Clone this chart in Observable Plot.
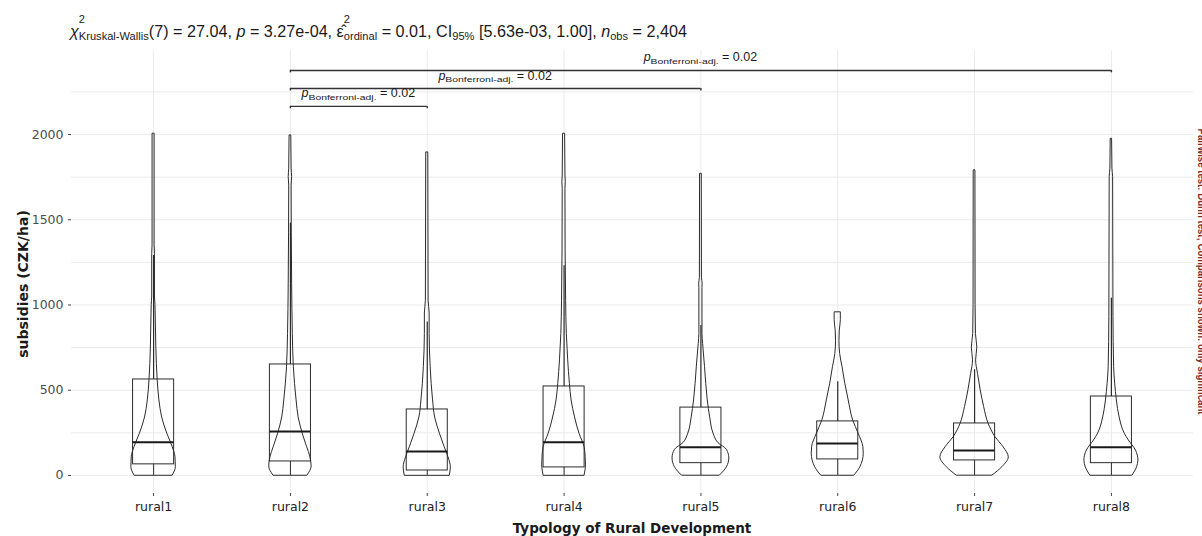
<!DOCTYPE html>
<html>
<head>
<meta charset="utf-8">
<script src="https://cdn.jsdelivr.net/npm/d3@7"></script>
<script src="https://cdn.jsdelivr.net/npm/@observablehq/plot@0.6"></script>
<style>
  html, body { margin: 0; padding: 0; background: #fff; overflow: hidden; }
</style>
</head>
<body>
<div id="chart"></div>
<script>
// ---------------- data ----------------
const categories = ["rural1", "rural2", "rural3", "rural4", "rural5", "rural6", "rural7", "rural8"];

const boxQ1     = [65, 82, 29, 47, 72, 94, 88, 72];
const boxMedian = [194, 258, 141, 194, 165, 187, 147, 165];
const boxQ3     = [563, 651, 387, 522, 398, 317, 305, 463];
const whiskerLo = [0, 0, 0, 0, 0, 0, 0, 0];
const whiskerHi = [1290, 1480, 900, 1230, 880, 550, 620, 1040];

// violin density profiles: [value, relative density]
const densityRural1 = [[0,.56],[48,.65],[106,.64],[165,.56],[245,.40],[340,.25],[440,.17],[557,.12],[750,.08],[950,.06],[1000,.055],[1050,.04],[1300,.04],[1350,.03],[2005,.03]];
const densityRural2 = [[0,.50],[53,.62],[110,.58],[165,.49],[245,.36],[340,.24],[440,.18],[635,.10],[830,.07],[1125,.05],[1420,.04],[1700,.035],[1750,.05],[1800,.035],[1995,.025]];
const densityRural3 = [[0,.66],[47,.69],[106,.62],[165,.51],[245,.37],[340,.23],[440,.17],[635,.10],[830,.07],[950,.07],[1025,.04],[1895,.03]];
const densityRural4 = [[0,.60],[59,.64],[110,.63],[165,.60],[245,.45],[340,.32],[440,.22],[538,.17],[675,.12],[830,.08],[1025,.06],[1320,.045],[1680,.04],[1720,.05],[1760,.04],[2005,.03]];
const densityRural5 = [[0,.56],[48,.76],[100,.83],[150,.76],[190,.51],[245,.37],[340,.27],[440,.20],[635,.12],[770,.065],[830,.045],[1100,.045],[1125,.05],[1160,.03],[1770,.025]];
const densityRural6 = [[0,.49],[48,.66],[127,.76],[165,.75],[245,.61],[323,.45],[440,.32],[538,.22],[635,.14],[713,.07],[790,.05],[850,.06],[910,.09],[957,.09]];
const densityRural7 = [[0,.53],[48,.81],[106,1.0],[165,.85],[225,.61],[303,.41],[401,.28],[499,.18],[596,.10],[675,.045],[750,.08],[830,.04],[1000,.03],[1790,.025]];
const densityRural8 = [[0,.62],[48,.75],[87,.79],[145,.72],[205,.51],[245,.39],[340,.24],[440,.16],[538,.11],[635,.08],[930,.06],[1750,.05],[1800,.03],[1975,.02]];
const violinProfiles = [densityRural1, densityRural2, densityRural3, densityRural4, densityRural5, densityRural6, densityRural7, densityRural8];

const yTicks = [0, 500, 1000, 1500, 2000];
const yGrid = [0, 250, 500, 750, 1000, 1250, 1500, 1750, 2000, 2250];

// pairwise comparisons (category index, 1-based) and bracket heights
const compFrom = [2, 2, 2];
const compTo   = [8, 5, 3];
const compY    = [2376, 2270, 2165];
const compP    = ["0.02", "0.02", "0.02"];

const xTitle = "Typology of Rural Development";
const yTitle = "subsidies (CZK/ha)";
const rightCaption = "Pairwise test: Dunn test; Comparisons shown: only significant";

// ---------------- build tables ----------------
const xs = categories.map((_, i) => i + 1);
const violinRows = violinProfiles.flatMap((prof, i) => prof.map(([v, d]) => ({x: i + 1, y: v, d})));
const boxRows = categories.map((c, i) => ({x: i + 1, q1: boxQ1[i], med: boxMedian[i], q3: boxQ3[i], lo: whiskerLo[i], hi: whiskerHi[i]}));
const compRows = compFrom.map((f, i) => ({from: f, to: compTo[i], y: compY[i], p: compP[i]}));
const compEnds = compRows.flatMap(r => [{x: r.from, y: r.y}, {x: r.to, y: r.y}]);

const VW = 0.25;  // max violin half width (category units)
const BW = 0.15;  // box half width

const plot = Plot.plot({
  width: 1202,
  height: 536,
  marginLeft: 71,
  marginRight: 9,
  marginTop: 50,
  marginBottom: 43,
  style: {fontFamily: "DejaVu Sans", fontSize: "12.5px", overflow: "hidden", background: "#fff"},
  x: {type: "linear", domain: [0.4, 8.6]},
  y: {domain: [-106, 2493]},
  marks: [
    Plot.gridY(yGrid, {stroke: "#ebebeb", strokeOpacity: 1, strokeWidth: 1}),
    Plot.gridX(xs, {stroke: "#ebebeb", strokeOpacity: 1, strokeWidth: 1}),
    Plot.axisY(yTicks, {tickSize: 3, tickPadding: 5, fontSize: 12.5, fill: "#4d4d4d", stroke: "#444", label: null, tickFormat: d3.format("d")}),
    Plot.axisX(xs, {tickSize: 3, tickPadding: 6, fontSize: 12.5, fill: "#222", stroke: "#444", label: null, tickFormat: i => categories[i - 1]}),
    Plot.areaX(violinRows, {
      y: "y", x1: r => r.x - r.d * VW, x2: r => r.x + r.d * VW, z: "x",
      fill: "none", stroke: "#2b2b2b", strokeWidth: 1, curve: "monotone-y"
    }),
    Plot.ruleX(boxRows, {x: "x", y1: "q3", y2: "hi", stroke: "#2b2b2b", strokeWidth: 1.2}),
    Plot.ruleX(boxRows, {x: "x", y1: "lo", y2: "q1", stroke: "#2b2b2b", strokeWidth: 1}),
    Plot.rect(boxRows, {x1: r => r.x - BW, x2: r => r.x + BW, y1: "q1", y2: "q3", fill: "none", stroke: "#2b2b2b", strokeWidth: 1}),
    Plot.ruleY(boxRows, {y: "med", x1: r => r.x - BW, x2: r => r.x + BW, stroke: "#1a1a1a", strokeWidth: 2}),
    Plot.ruleY(compRows, {y: "y", x1: "from", x2: "to", stroke: "#333", strokeWidth: 1.4}),
    Plot.ruleX(compEnds, {x: "x", y1: r => r.y - 14, y2: "y", stroke: "#333", strokeWidth: 1.4})
  ]
});

document.getElementById("chart").appendChild(plot);

const svg = d3.select(plot);
const sx = plot.scale("x");
const sy = plot.scale("y");

// rich text helper
function richText(g, pieces, family) {
  let x = 0, lastX = 0;
  for (const p of pieces) {
    const startX = p.stack ? lastX : x;
    const t = g.append("text")
      .attr("x", startX)
      .attr("y", p.dy || 0)
      .attr("font-size", p.s)
      .attr("font-family", family)
      .attr("text-anchor", "start")
      .attr("fill", "#1a1a1a")
      .style("white-space", "pre")
      .text(p.t);
    if (p.italic) t.attr("font-style", "italic");
    if (p.len) t.attr("textLength", p.len).attr("lengthAdjust", "spacingAndGlyphs");
    const w = p.len || t.node().getComputedTextLength();
    if (p.stack) { x = Math.max(x, startX + w); }
    else { lastX = startX; x = startX + w; }
  }
  return x;
}

// title
const titlePieces = [
  {t: "χ", s: 16, italic: true},
  {t: "2", s: 11, dy: -14},
  {t: "Kruskal-Wallis", s: 11, dy: 2.5, stack: true},
  {t: "(7) = 27.04, ", s: 16},
  {t: "p", s: 16, italic: true},
  {t: " = 3.27e-04, ", s: 16},
  {t: "ε\u0302", s: 16},
  {t: "2", s: 11, dy: -14},
  {t: "ordinal", s: 11, dy: 2.5, stack: true},
  {t: " = 0.01, CI", s: 16},
  {t: "95%", s: 11, dy: 2.5},
  {t: " [5.63e-03, 1.00], ", s: 16},
  {t: "n", s: 16, italic: true},
  {t: "obs", s: 11, dy: 2.5},
  {t: " = 2,404", s: 16}
];
const tg = svg.append("g");
const tw = richText(tg, titlePieces, "Liberation Sans");
tg.attr("transform", `translate(70,37) scale(${617 / tw},1)`);

// bracket labels
compRows.forEach(r => {
  const g = svg.append("g");
  const w = richText(g, [
    {t: "p", s: 12.5, italic: true},
    {t: "Bonferroni-adj.", s: 8, dy: 2.5, len: 68},
    {t: " = " + r.p, s: 12.5}
  ], "Liberation Sans");
  const cx = sx.apply((r.from + r.to) / 2);
  const by = sy.apply(r.y) - 8.5;
  g.attr("transform", `translate(${cx - w / 2},${by})`);
});

// axis titles
svg.append("text")
  .attr("transform", "translate(27.5,284) rotate(-90)")
  .attr("text-anchor", "middle")
  .attr("font-family", "DejaVu Sans")
  .attr("font-weight", "bold")
  .attr("font-size", 14)
  .attr("fill", "#1a1a1a")
  .text(yTitle);

svg.append("text")
  .attr("x", (sx.apply(0.4) + sx.apply(8.6)) / 2)
  .attr("y", 533)
  .attr("text-anchor", "middle")
  .attr("font-family", "DejaVu Sans")
  .attr("font-weight", "bold")
  .attr("font-size", 13.5)
  .attr("fill", "#1a1a1a")
  .text(xTitle);

// right-side (clipped) secondary caption
svg.append("text")
  .attr("transform", `translate(1197.5,${(sy.apply(-106) + sy.apply(2493)) / 2}) rotate(90)`)
  .attr("text-anchor", "middle")
  .attr("font-family", "Liberation Sans")
  .attr("font-weight", "bold")
  .attr("font-size", 10)
  .attr("textLength", 286)
  .attr("lengthAdjust", "spacingAndGlyphs")
  .attr("fill", "#7b2d26")
  .text(rightCaption);
</script>
</body>
</html>
